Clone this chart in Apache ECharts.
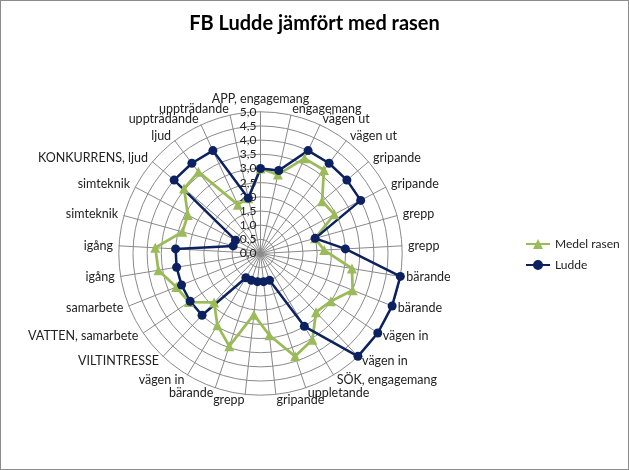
<!DOCTYPE html>
<html>
<head>
<meta charset="utf-8">
<script src="https://cdn.jsdelivr.net/npm/echarts@6/dist/echarts.min.js"></script>
<style>
  html, body { margin: 0; padding: 0; background: #fff; }
  #chart { width: 629px; height: 470px; box-sizing: border-box; border: 1px solid #8c8c8c; }
</style>
</head>
<body>
<div id="chart"></div>
<script>
// categories, clockwise from the top
var categories = ['APP, engagemang','engagemang','vägen ut','vägen ut','gripande','gripande','grepp','grepp',
  'bärande','bärande','vägen in','vägen in','SÖK, engagemang','uppletande','gripande','grepp','bärande',
  'vägen in','VILTINTRESSE','VATTEN, samarbete','samarbete','igång','igång','simteknik','simteknik',
  'KONKURRENS, ljud','ljud','uppträdande','uppträdande'];
var medelRasen = [3.0,2.85,3.7,3.7,2.85,2.95,2.0,2.25,3.27,3.5,3.0,2.85,3.55,3.83,2.9,2.17,3.45,2.95,
  2.38,3.05,3.2,3.65,3.72,2.86,2.9,3.54,3.62,1.9,2.0];
var ludde = [3,3,4,4,4,4,2,3,5,5,5,5,3,1,1,1,1,1,3,3,3,3,3,1,1,4,4,4,2];
var seriesNames = ['Medel rasen','Ludde'];

// echarts radar goes counter-clockwise, the reference goes clockwise
function cw(arr){ return [arr[0]].concat(arr.slice(1).reverse()); }

var font = 'Lato, "Open Sans", sans-serif';
var indicator = cw(categories).map(function(name, i){
  var ind = { name: name, min: 0, max: 5 };
  if (i === 0) ind.axisLabel = { show: true };
  return ind;
});

var chart = echarts.init(document.getElementById('chart'));
chart.setOption({
  backgroundColor: '#fff',
  animation: false,
  title: {
    text: 'FB Ludde jämfört med rasen',
    left: 'center',
    top: 8,
    textStyle: { fontFamily: font, fontSize: 20, fontWeight: 'bold', color: '#000' }
  },
  legend: {
    orient: 'vertical',
    left: 520,
    top: 232,
    itemGap: 9,
    itemWidth: 24,
    itemHeight: 10,
    textStyle: { fontFamily: font, fontSize: 12, color: '#222' },
    data: [
      { name: seriesNames[0], icon: 'path://M0,4L10,4L10,6L0,6Z M14,4L24,4L24,6L14,6Z M12,0L17,10L7,10Z' },
      { name: seriesNames[1], icon: 'path://M0,4L10,4L10,6L0,6Z M14,4L24,4L24,6L14,6Z M17,5A5,5 0 1 1 7,5A5,5 0 1 1 17,5Z' }
    ]
  },
  radar: {
    center: [259.5, 252.5],
    radius: 141.7,
    shape: 'circle',
    splitNumber: 10,
    indicator: indicator,
    axisName: { color: '#222', fontFamily: font, fontSize: 12.5 },
    nameGap: 6,
    axisLine: { lineStyle: { color: '#8a8a8a', width: 1 } },
    splitLine: { lineStyle: { color: '#8a8a8a', width: 1 } },
    splitArea: { show: false },
    axisTick: { show: false },
    axisLabel: {
      show: false,
      color: '#222',
      fontFamily: font,
      fontSize: 12,
      margin: 4,
      formatter: function(v){ return Number(v).toFixed(1).replace('.', ','); }
    }
  },
  series: [{
    type: 'radar',
    data: [
      {
        name: seriesNames[0],
        value: cw(medelRasen),
        symbol: 'triangle',
        symbolSize: 10,
        itemStyle: { color: '#9bbb59' },
        lineStyle: { color: '#9bbb59', width: 2.75 }
      },
      {
        name: seriesNames[1],
        value: cw(ludde),
        symbol: 'circle',
        symbolSize: 9,
        itemStyle: { color: '#0b2160' },
        lineStyle: { color: '#0b2160', width: 2.5 }
      }
    ]
  }]
});
</script>
</body>
</html>
